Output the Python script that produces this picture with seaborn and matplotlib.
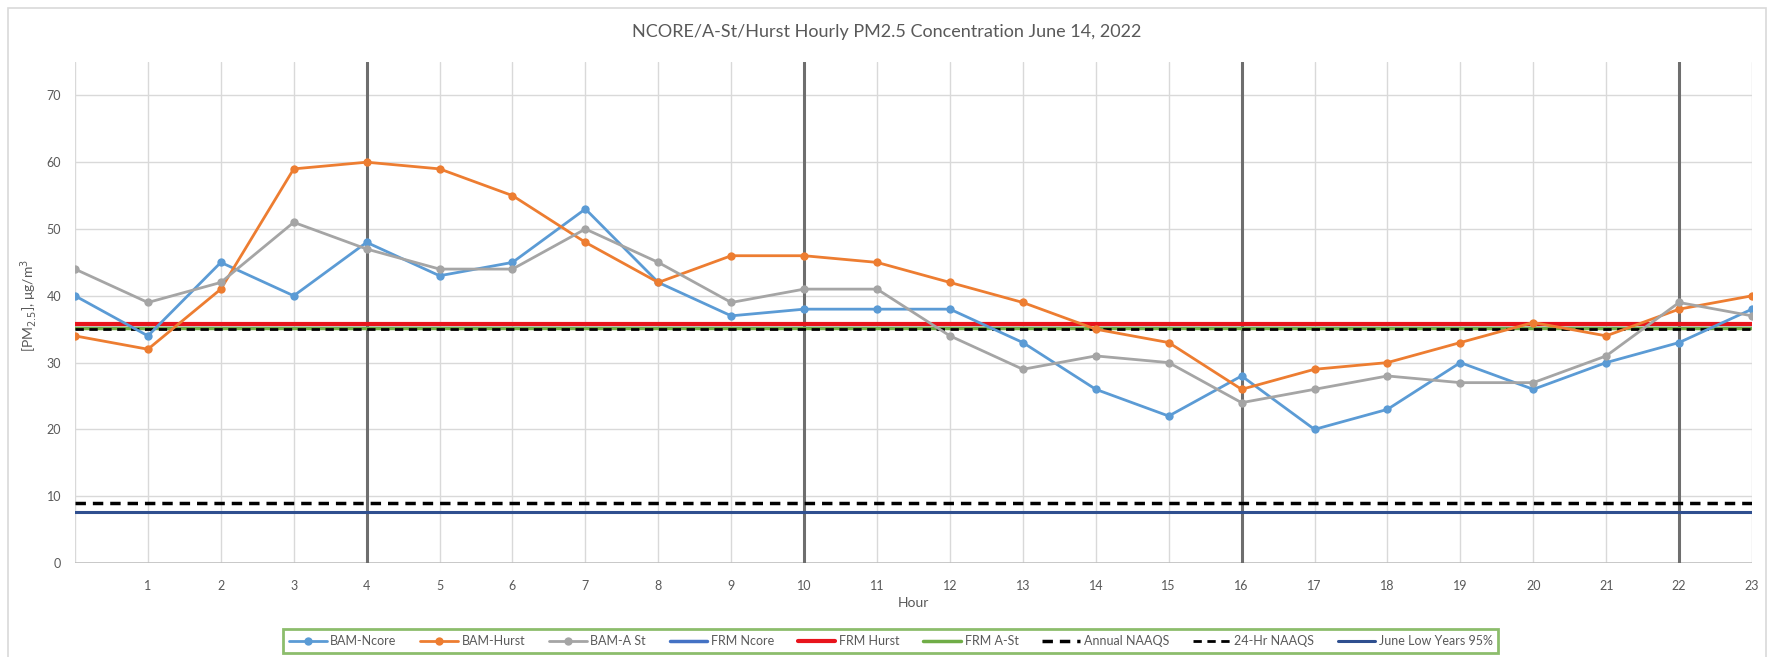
import seaborn as sns
import numpy as np
import pandas as pd
from matplotlib import pyplot as plt
from matplotlib.patches import Rectangle

hours = list(range(24))
bam_ncore = [40, 34, 45, 40, 48, 43, 45, 53, 42, 37, 38, 38, 38, 33, 26, 22, 28, 20, 23, 30, 26, 30, 33, 38]
bam_hurst = [34, 32, 41, 59, 60, 59, 55, 48, 42, 46, 46, 45, 42, 39, 35, 33, 26, 29, 30, 33, 36, 34, 38, 40]
bam_ast = [44, 39, 42, 51, 47, 44, 44, 50, 45, 39, 41, 41, 34, 29, 31, 30, 24, 26, 28, 27, 27, 31, 39, 37]

# reference levels (horizontal lines)
frm_ncore = 35.8
frm_hurst = 35.8
frm_ast = 35.2
annual_naaqs = 9
hr24_naaqs = 35
june_low95 = 7.7

sample_hours = [4, 10, 16, 22]

tick_labels = [""] + [str(h) for h in hours[1:]]

sns.set_style("white")
plt.rcParams['font.family'] = ['Lato', 'DejaVu Sans']

fig = plt.figure(figsize=(17.74, 6.57), dpi=100)
ax = fig.add_axes([75/1774, 1 - 563/657, (1752 - 75)/1774, (563 - 62)/657])

txt = "#595959"
grid_c = "#D9D9D9"

df = pd.DataFrame({"Hour": hours, "BAM-Ncore": bam_ncore, "BAM-Hurst": bam_hurst, "BAM-A St": bam_ast})

# grid
for h in hours:
	ax.axvline(h, color=grid_c, lw=1, zorder=0)
for v in range(10, 80, 10):
	ax.axhline(v, color=grid_c, lw=1, zorder=0)
ax.axhline(0, color="#BFBFBF", lw=1.2, zorder=0)

# sampling-hour markers
for h in sample_hours:
	ax.axvline(h, ymin=0, ymax=1, color="#6E6E6E", lw=2.2, zorder=1, label="_nolegend_")

sns.lineplot(data=df, x="Hour", y="BAM-Ncore", ax=ax, color="#5B9BD5", marker="o", markersize=6,
	markeredgewidth=0, lw=2, label="BAM-Ncore", zorder=4)
sns.lineplot(data=df, x="Hour", y="BAM-Hurst", ax=ax, color="#ED7D31", marker="o", markersize=6,
	markeredgewidth=0, lw=2, label="BAM-Hurst", zorder=4)
sns.lineplot(data=df, x="Hour", y="BAM-A St", ax=ax, color="#A5A5A5", marker="o", markersize=6,
	markeredgewidth=0, lw=2, label="BAM-A St", zorder=4)

ax.axhline(frm_ncore, color="#4472C4", lw=2.5, label="FRM Ncore", zorder=2)
ax.axhline(frm_hurst, color="#E8141C", lw=3, label="FRM Hurst", zorder=3)
ax.axhline(frm_ast, color="#70AD47", lw=2.5, label="FRM A-St", zorder=2)
ax.axhline(annual_naaqs, color="black", lw=2.5, ls=(0, (3, 2)), label="Annual NAAQS", zorder=3)
ax.axhline(hr24_naaqs, color="black", lw=2, ls=(0, (3, 2)), label="24-Hr NAAQS", zorder=3)
ax.axhline(june_low95, color="#2F4F8F", lw=2.2, label="June Low Years 95%", zorder=3)

ax.set_xlim(0, 23)
ax.set_ylim(0, 75)
ax.set_xticks(hours)
ax.set_xticklabels(tick_labels)
ax.set_yticks(range(0, 80, 10))
ax.tick_params(axis="both", colors=txt, labelsize=9, length=0, pad=12)
ax.tick_params(axis="y", pad=10)
for s in ax.spines.values():
	s.set_visible(False)

ax.set_xlabel("Hour", color=txt, fontsize=10, labelpad=4)
ax.set_ylabel(r"[PM$_{2.5}$], μg/m$^3$", color=txt, fontsize=10)
ax.yaxis.set_label_coords(-0.0215, 0.515)
fig.text(0.5, 1 - 32/657, "NCORE/A-St/Hurst Hourly PM2.5 Concentration June 14, 2022",
	ha="center", va="center", fontsize=13, color=txt)

ax.get_legend().remove()
handles, labels = ax.get_legend_handles_labels()
leg = fig.legend(handles, labels, loc="center", bbox_to_anchor=(891/1774, 1 - 641/657), ncol=9,
	fontsize=9, frameon=True, fancybox=False, handlelength=3.0, columnspacing=1.9,
	borderpad=0.45, handletextpad=0.3)
leg.get_frame().set_edgecolor("#70AD47")
leg.get_frame().set_linewidth(2)
for t in leg.get_texts():
	t.set_color(txt)

fig.patches.append(Rectangle((8/1774, -0.02), (1766 - 8)/1774, 1 - 8/657 + 0.02, transform=fig.transFigure,
	fill=False, edgecolor="#D9D9D9", lw=1.2))

fig.savefig("out.png", dpi=100)
